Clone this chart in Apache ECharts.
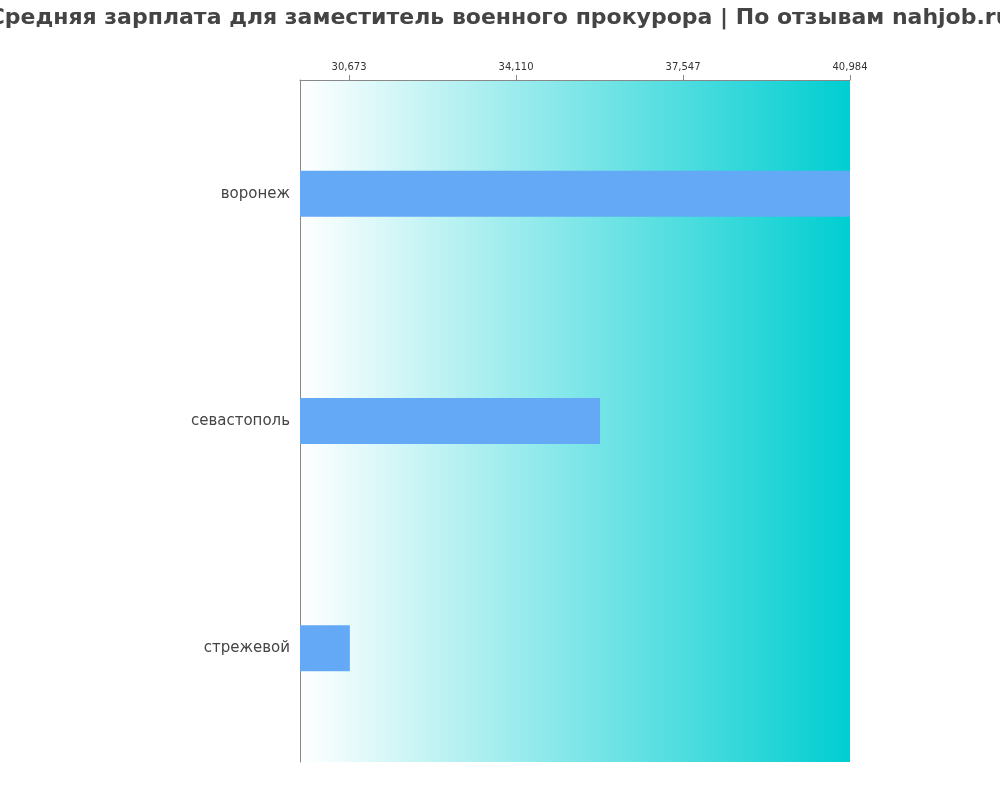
<!DOCTYPE html>
<html><head><meta charset="utf-8">
<script src="https://cdn.jsdelivr.net/npm/echarts@6/dist/echarts.min.js"></script>
<style>html,body{margin:0;padding:0}#c{width:1000px;height:800px}</style>
</head><body><div id="c"></div>
<script>
const categories = ['воронеж', 'севастополь', 'стрежевой'];
const values = [40984, 35840, 30690];
const tickValues = [30673, 34110, 37547, 40984];
const axisMin = 29664, axisMax = 40984;
const chart = echarts.init(document.getElementById('c'));
chart.setOption({
  title: {text: 'Средняя зарплата для заместитель военного прокурора | По отзывам nahjob.ru', left: 'center', top: 2,
    textStyle: {fontFamily: 'DejaVu Sans', fontSize: 22, fontWeight: 'bold', color: '#444'}},
  grid: {left: 300, right: 150, top: 80, bottom: 38, show: true, borderWidth: 0,
    backgroundColor: new echarts.graphic.LinearGradient(0, 0, 1, 0, [{offset: 0, color: '#ffffff'}, {offset: 1, color: '#00ced1'}])},
  xAxis: {type: 'value', position: 'top', min: axisMin, max: axisMax,
    axisLine: {show: true, lineStyle: {color: '#888'}}, splitLine: {show: false},
    axisTick: {show: true, customValues: tickValues, lineStyle: {color: '#888'}},
    axisLabel: {customValues: tickValues, fontSize: 10, color: '#333', fontFamily: 'DejaVu Sans'}},
  yAxis: {type: 'category', data: categories, inverse: true,
    axisLine: {show: true, lineStyle: {color: '#888'}}, axisTick: {show: false},
    axisLabel: {fontSize: 15, color: '#444', margin: 10, fontFamily: 'DejaVu Sans'}},
  series: [{type: 'bar', data: values, barWidth: 46, itemStyle: {color: '#63a9f5'}}]
});
</script></body></html>
